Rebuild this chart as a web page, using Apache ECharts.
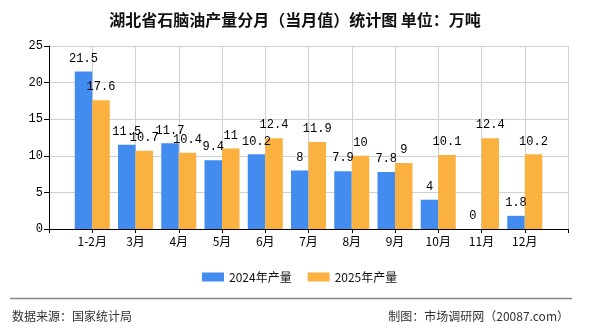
<!DOCTYPE html>
<html><head><meta charset="utf-8">
<script src="https://cdn.jsdelivr.net/npm/echarts@6/dist/echarts.min.js"></script>
<style>html,body{margin:0;padding:0;background:#fff}#c{width:590px;height:330px}</style>
</head><body><div id="c"></div>
<script>
var categories = ['1-2月','3月','4月','5月','6月','7月','8月','9月','10月','11月','12月'];
var series2024 = [21.5, 11.5, 11.7, 9.4, 10.2, 8, 7.9, 7.8, 4, 0, 1.8];
var series2025 = [17.6, 10.7, 10.4, 11, 12.4, 11.9, 10, 9, 10.1, 12.4, 10.2];
var seriesNames = ['2024年产量', '2025年产量'];
var yTicks = [0, 5, 10, 15, 20, 25];

var axisCats = [''].concat(categories, ['']);
function pad(a){ return [null].concat(a, [null]); }

var chart = echarts.init(document.getElementById('c'), null, {renderer:'canvas'});
var cjk = '"Noto Sans CJK SC", "Noto Sans", sans-serif';
var labelStyle = {show:true, position:'top', distance:7, color:'#000', fontSize:12, fontFamily:'"Liberation Mono", monospace'};
chart.setOption({
  animation:false,
  backgroundColor:'#fff',
  title:{text:'湖北省石脑油产量分月（当月值）统计图 单位：万吨', left:'center', top:7,
    textStyle:{fontSize:16, fontWeight:'bold', color:'#111', fontFamily:cjk}},
  grid:{left:49, right:22, top:46, bottom:101, containLabel:false},
  legend:{left:197, top:266, itemWidth:22, itemHeight:9, itemGap:16,
    textStyle:{fontSize:12, color:'#111', fontFamily:cjk}, icon:'rect',
    data:seriesNames},
  xAxis:{type:'category', data:axisCats, boundaryGap:false,
    axisLine:{lineStyle:{color:'#000'}},
    axisTick:{show:true, length:4, lineStyle:{color:'#000'}},
    axisLabel:{color:'#000', fontSize:12, fontFamily:cjk, interval:0, margin:6},
    splitLine:{show:true, lineStyle:{color:'#d0d0d0'}}},
  yAxis:{type:'value', min:yTicks[0], max:yTicks[yTicks.length-1], interval:5,
    axisLine:{show:true, lineStyle:{color:'#000'}},
    axisTick:{show:true, length:5, lineStyle:{color:'#000'}},
    axisLabel:{color:'#000', fontSize:12, fontFamily:'"Liberation Mono", monospace', margin:6},
    splitLine:{show:true, lineStyle:{color:'#d0d0d0'}}},
  series:[
    {name:seriesNames[0], type:'bar', data:pad(series2024), barWidth:17.5, barGap:'0%',
     itemStyle:{color:'#428CEF'}, label:labelStyle},
    {name:seriesNames[1], type:'bar', data:pad(series2025), barWidth:17.5, barGap:'0%',
     itemStyle:{color:'#FBB13F'}, label:labelStyle}
  ],
  graphic:[
    {type:'line', shape:{x1:10, y1:298.5, x2:572, y2:298.5}, style:{stroke:'#888', lineWidth:1.5}},
    {type:'text', left:12, top:310, style:{text:'数据来源：国家统计局', fill:'#333', fontSize:12, fontFamily:cjk}},
    {type:'text', right:21, top:310, style:{text:'制图：市场调研网（20087.com）', fill:'#333', fontSize:12, fontFamily:cjk}}
  ]
});
</script></body></html>
